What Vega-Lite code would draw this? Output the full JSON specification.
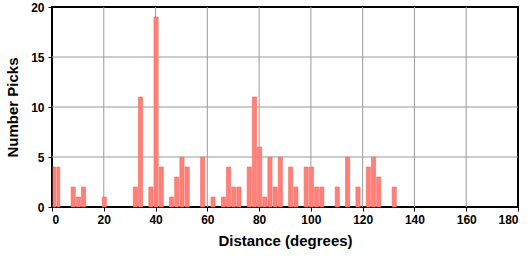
{
  "$schema": "https://vega.github.io/schema/vega-lite/v6.json",
  "width": 466,
  "height": 200,
  "autosize": {"type": "none"},
  "padding": {"left": 52, "top": 7, "right": 12, "bottom": 51},
  "config": {
    "view": {"stroke": "#000", "strokeWidth": 2},
    "axis": {
      "labelFont": "Liberation Sans",
      "labelFontWeight": "bold",
      "labelFontSize": 12,
      "labelColor": "#000",
      "titleFont": "Liberation Sans",
      "titleFontWeight": "bold",
      "titleFontSize": 15,
      "titleColor": "#000",
      "domain": false,
      "tickColor": "#000",
      "tickSize": 4,
      "grid": false
    }
  },
  "datasets": {
    "picks": [
      {"start": 0, "end": 1.5, "count": 4},
      {"start": 1.5, "end": 3, "count": 4},
      {"start": 7, "end": 9, "count": 2},
      {"start": 9, "end": 11, "count": 1},
      {"start": 11, "end": 13, "count": 2},
      {"start": 19, "end": 21, "count": 1},
      {"start": 31, "end": 33, "count": 2},
      {"start": 33, "end": 35, "count": 11},
      {"start": 37, "end": 39, "count": 2},
      {"start": 39, "end": 41, "count": 19},
      {"start": 41, "end": 43, "count": 4},
      {"start": 45, "end": 47, "count": 1},
      {"start": 47, "end": 49, "count": 3},
      {"start": 49, "end": 51, "count": 5},
      {"start": 51, "end": 53, "count": 4},
      {"start": 57, "end": 59, "count": 5},
      {"start": 61, "end": 63, "count": 1},
      {"start": 65, "end": 67, "count": 1},
      {"start": 67, "end": 69, "count": 4},
      {"start": 69, "end": 71, "count": 2},
      {"start": 71, "end": 73, "count": 2},
      {"start": 75, "end": 77, "count": 4},
      {"start": 77, "end": 79, "count": 11},
      {"start": 79, "end": 81, "count": 6},
      {"start": 81, "end": 83, "count": 1},
      {"start": 83, "end": 85, "count": 5},
      {"start": 85, "end": 87, "count": 2},
      {"start": 87, "end": 89, "count": 5},
      {"start": 91, "end": 93, "count": 4},
      {"start": 93, "end": 95, "count": 2},
      {"start": 97, "end": 99, "count": 4},
      {"start": 99, "end": 101, "count": 4},
      {"start": 101, "end": 103, "count": 2},
      {"start": 103, "end": 105, "count": 2},
      {"start": 109, "end": 111, "count": 2},
      {"start": 113, "end": 115, "count": 5},
      {"start": 117, "end": 119, "count": 2},
      {"start": 121, "end": 123, "count": 4},
      {"start": 123, "end": 125, "count": 5},
      {"start": 125, "end": 127, "count": 3},
      {"start": 131, "end": 133, "count": 2}
    ],
    "xgrid": [
      {"deg": 20}, {"deg": 40}, {"deg": 60}, {"deg": 80}, {"deg": 100},
      {"deg": 120}, {"deg": 140}, {"deg": 160}
    ],
    "ygrid": [
      {"n": 5}, {"n": 10}, {"n": 15}
    ]
  },
  "layer": [
    {
      "data": {"name": "xgrid"},
      "mark": {"type": "rule", "color": "#9a9a9a", "strokeWidth": 1},
      "encoding": {
        "x": {"field": "deg", "type": "quantitative", "title": "Distance (degrees)"}
      }
    },
    {
      "data": {"name": "ygrid"},
      "mark": {"type": "rule", "color": "#9a9a9a", "strokeWidth": 1},
      "encoding": {
        "y": {"field": "n", "type": "quantitative", "title": "Number Picks"}
      }
    },
    {
      "data": {"name": "picks"},
      "mark": {"type": "bar", "fill": "#ff8078", "stroke": "#f26a62", "strokeWidth": 0.6},
      "encoding": {
        "x": {
          "field": "start", "type": "quantitative", "bin": "binned",
          "scale": {"domain": [0, 180], "nice": false, "zero": false},
          "axis": {"values": [0, 20, 40, 60, 80, 100, 120, 140, 160, 180], "labelPadding": 3, "titlePadding": 8},
          "title": "Distance (degrees)"
        },
        "x2": {"field": "end"},
        "y": {
          "field": "count", "type": "quantitative",
          "scale": {"domain": [0, 20], "nice": false},
          "axis": {"values": [0, 5, 10, 15, 20], "labelPadding": 4, "titlePadding": 10},
          "title": "Number Picks"
        }
      }
    }
  ]
}
